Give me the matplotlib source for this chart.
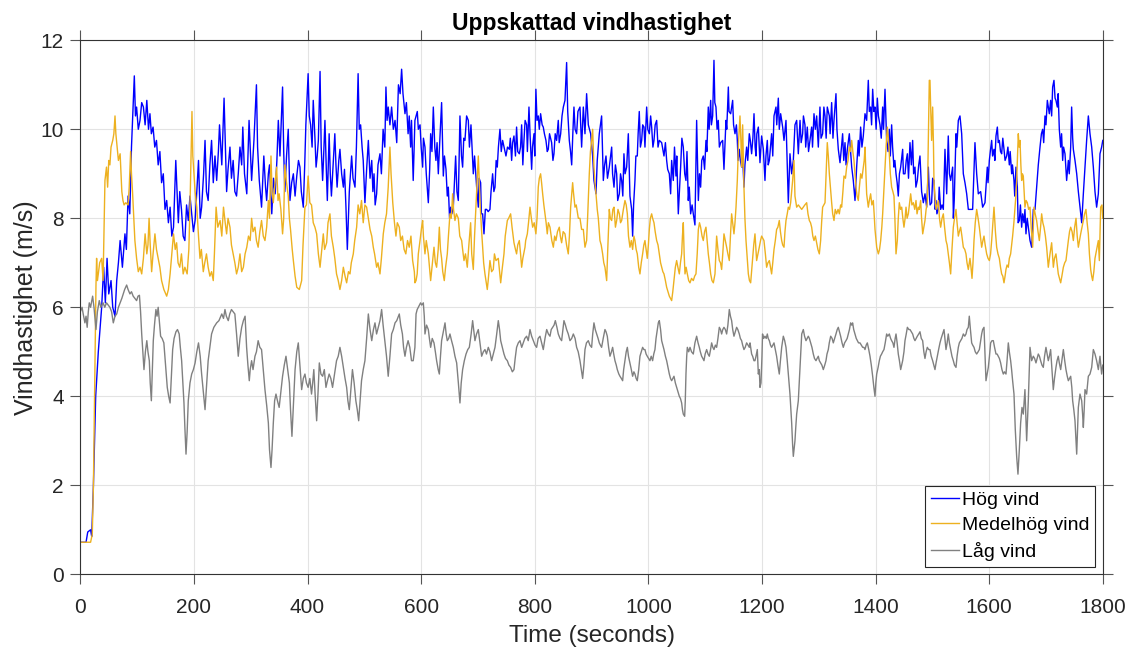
import numpy as np
import matplotlib
matplotlib.use('Agg')
import matplotlib.pyplot as plt

# Estimated wind speed (m/s) vs time (s) for three wind conditions
hog_vind = [
    (0, 0.72), (10, 0.72), (13, 0.95), (18, 1.0), (20, 0.85), (23, 2.0), (27, 4.0), (31.6, 5.0), (37.5, 6.0),
    (41, 6.9), (44, 6.1), (47, 7.1), (50, 6.3), (54, 6.6), (57, 6.0), (61, 5.8), (64, 6.6), (67, 7.0), (70, 7.5),
    (74, 6.9), (78.5, 7.65), (81, 7.3), (84, 8.5), (87, 8.1), (90, 9.6), (95, 11.2), (97, 10.3), (99, 10.5),
    (102, 10.0), (105, 10.2), (108, 10.6), (111, 10.5), (114, 10.1), (117, 10.65), (120, 10.0), (122.5, 10.35),
    (125, 9.9), (128, 10.05), (131, 9.6), (134, 9.75), (137, 9.2), (140, 9.5), (143, 8.8), (146, 9.0), (149, 8.2),
    (152, 8.4), (155, 7.9), (158, 8.25), (161, 7.6), (164, 7.8), (168, 9.3), (172.5, 7.9), (175, 8.6), (178, 8.2),
    (181, 7.6), (184, 7.5), (187, 8.3), (190, 7.95), (193, 8.5), (196, 8.1), (199, 7.7), (202, 7.95), (205, 8.6),
    (208, 9.3), (211, 8.0), (213.5, 8.25), (217, 9.0), (219.5, 9.75), (222, 8.6), (225, 8.4), (228, 9.2),
    (231, 9.75), (234, 8.8), (237, 9.4), (240, 8.85), (243, 9.5), (245, 10.1), (249, 9.2), (253, 10.7),
    (257.5, 8.6), (260, 9.1), (263.4, 9.6), (266, 8.9), (269, 9.3), (272, 8.6), (275, 8.5), (278, 9.0), (281, 9.6),
    (284, 9.2), (286, 10.05), (289, 9.0), (293, 8.55), (297, 10.2), (301.5, 8.85), (305.6, 9.75), (310, 11.0),
    (312, 9.6), (315, 8.85), (319, 8.25), (323, 9.4), (326, 8.7), (328, 8.4), (331, 9.0), (333, 9.2), (337, 8.1),
    (340, 8.9), (343, 8.55), (346, 9.3), (348.5, 10.2), (351.4, 9.4), (356, 10.95), (358, 9.5), (360, 8.6),
    (363, 9.4), (366, 10.0), (369, 8.4), (372, 8.8), (375, 9.0), (378, 8.5), (381, 8.95), (384, 9.3),
    (386.6, 9.15), (389, 8.6), (392.5, 8.25), (395, 9.2), (397, 10.1), (401, 11.25), (403, 10.3), (405.4, 10.1),
    (408, 9.6), (410, 10.65), (413, 9.8), (415, 9.15), (417, 9.4), (419, 9.75), (422, 11.3), (424, 9.6),
    (426.5, 8.85), (428, 9.3), (430.6, 10.2), (433, 9.1), (434.8, 8.4), (438, 9.9), (440, 9.0), (442, 8.5),
    (445, 9.2), (448, 9.9), (450, 9.2), (452, 8.7), (455, 9.3), (457, 9.55), (460, 9.0), (463, 8.7), (465, 9.1),
    (467.6, 8.25), (470, 7.3), (473.5, 8.6), (477.6, 9.4), (480, 8.9), (483.5, 8.7), (486, 9.6), (489, 11.25),
    (491, 10.0), (493.4, 10.1), (496, 9.6), (498, 9.3), (501, 8.35), (504, 9.1), (507, 9.75), (510, 8.9),
    (513, 9.3), (515, 8.6), (517, 9.0), (519, 8.3), (521.6, 8.55), (524, 9.2), (527.5, 9.45), (530, 9.0),
    (533, 10.0), (536, 9.6), (538, 10.95), (540, 10.2), (542, 10.5), (545, 10.1), (548, 10.5), (551, 10.0),
    (554, 10.2), (557, 9.7), (560, 11.0), (563, 10.8), (565.6, 11.35), (568, 10.8), (571.5, 10.35), (574, 10.6),
    (577, 9.9), (579, 10.3), (581.5, 9.6), (583, 10.2), (586, 8.85), (589, 10.2), (591, 10.3), (593.2, 10.4),
    (595, 10.0), (598, 10.1), (600, 9.6), (602.6, 9.15), (604, 9.8), (606.7, 9.6), (609, 9.0), (612.6, 8.35),
    (615, 9.1), (616.7, 9.9), (619, 9.5), (621.4, 10.5), (624, 9.6), (626, 9.3), (628, 9.7), (630.2, 9.0),
    (633, 9.8), (636, 10.6), (639, 8.95), (641, 9.4), (643.7, 9.1), (646, 8.5), (647.8, 8.7), (650, 8.0),
    (652, 8.25), (654, 8.1), (656.6, 8.25), (660.7, 9.4), (663, 8.6), (665.4, 8.4), (668.3, 10.3), (671, 9.4),
    (673, 9.15), (675, 9.8), (677.1, 9.75), (680, 10.3), (683, 10.2), (685, 9.6), (687.7, 10.1), (690, 9.5),
    (691.8, 9.0), (694, 9.4), (697.7, 8.7), (700.6, 8.25), (702, 8.9), (704.7, 8.8), (706, 8.1), (708.2, 8.1),
    (710.6, 7.65), (713, 8.2), (715.3, 8.2), (718, 8.15), (721.1, 8.2), (723, 8.6), (725.8, 9.0), (728, 8.6),
    (730, 8.7), (732, 9.3), (734, 9.15), (736, 9.6), (738.7, 10.0), (741, 9.5), (743.4, 9.75), (746, 9.6),
    (749.3, 9.4), (752, 9.6), (755.2, 9.55), (757, 9.8), (759.3, 9.3), (761, 9.7), (763.4, 9.85), (766, 9.4),
    (768, 10.05), (770, 9.5), (772.8, 9.45), (775, 9.6), (776.9, 10.1), (779, 9.2), (781, 9.75), (783, 10.2),
    (785.7, 10.1), (787, 9.5), (789.8, 10.5), (792, 9.8), (794.5, 9.1), (796, 9.6), (798.6, 9.9), (800, 9.4),
    (802, 10.9), (804, 10.2), (806.2, 10.3), (808, 10.0), (810.3, 10.35), (813, 10.1), (815, 10.05), (817, 9.9),
    (819.7, 9.75), (822, 9.5), (823.8, 9.55), (826, 9.9), (829.7, 9.7), (832, 9.3), (833.8, 9.45), (836, 9.9),
    (838.5, 9.75), (841.4, 10.2), (843, 9.7), (845.6, 9.9), (848, 10.3), (850.3, 10.5), (853.2, 10.65),
    (856.1, 11.5), (858, 10.4), (860.8, 9.75), (863, 9.5), (865, 9.2), (867, 9.9), (869, 10.5), (871, 10.0),
    (873.7, 9.9), (876, 10.4), (879.6, 10.5), (882.5, 9.6), (885.5, 10.5), (888.4, 9.9), (891.3, 10.8),
    (894.3, 10.1), (898.4, 9.9), (901.9, 9.4), (904.2, 8.85), (907.8, 8.55), (910, 9.3), (913.6, 9.9),
    (917.7, 10.3), (920.7, 8.85), (923, 9.2), (925.4, 9.4), (928, 8.9), (931.2, 9.15), (935.4, 9.6), (937, 9.0),
    (939.5, 8.7), (942, 9.2), (944.2, 9.0), (946, 8.4), (948.9, 8.55), (951, 9.0), (953, 8.85), (955, 8.5),
    (957, 9.45), (959, 9.0), (961.8, 9.15), (964.7, 9.9), (967.6, 8.5), (970.6, 8.2), (972.3, 7.6), (974, 8.3),
    (976.4, 8.85), (978, 9.4), (980.5, 9.4), (982, 9.9), (984, 10.4), (986, 9.6), (988.2, 9.75), (990, 10.1),
    (992.3, 10.05), (994, 9.6), (997, 10.5), (999, 10.0), (1001.7, 9.9), (1004, 10.3), (1005.8, 10.05),
    (1008, 9.6), (1009.9, 9.75), (1012, 10.1), (1014.6, 10.2), (1017, 9.6), (1019.3, 9.75), (1023.4, 9.7),
    (1027.5, 9.4), (1030, 9.7), (1032.2, 9.3), (1034, 9.1), (1036.9, 9.0), (1039.2, 8.55), (1041, 9.3),
    (1043.9, 8.85), (1046, 9.6), (1048.6, 8.95), (1050, 9.4), (1052.7, 8.1), (1055, 8.7), (1056.8, 9.15),
    (1059, 9.8), (1061.5, 9.6), (1064, 9.0), (1066.2, 8.85), (1068, 9.5), (1070.3, 8.4), (1072, 8.7),
    (1074.4, 8.1), (1077, 8.3), (1079.1, 8.1), (1082, 7.85), (1085, 10.2), (1088, 8.4), (1090, 9.0), (1092, 8.7),
    (1094, 9.3), (1096.7, 9.4), (1099, 9.1), (1101.4, 9.75), (1103, 9.5), (1105.5, 10.5), (1107, 10.0),
    (1109.7, 10.65), (1111, 10.1), (1113.2, 10.3), (1115.5, 11.55), (1117, 10.6), (1119, 10.5), (1121, 10.0),
    (1123.1, 10.2), (1125, 9.6), (1127.3, 9.7), (1130.8, 9.75), (1133.1, 9.1), (1136.6, 10.2), (1138, 10.0),
    (1140.8, 10.95), (1142, 10.4), (1144.9, 10.35), (1148.4, 10.65), (1150, 10.1), (1152.5, 9.9), (1155, 10.1),
    (1156.6, 9.75), (1158, 9.3), (1160.1, 9.55), (1162, 9.3), (1164.2, 9.15), (1166, 9.4), (1168.3, 8.7),
    (1170, 9.2), (1173, 9.6), (1175, 9.3), (1177.7, 9.9), (1179.5, 9.75), (1181.8, 9.45), (1184, 9.8),
    (1186, 10.35), (1188, 9.6), (1189.5, 9.4), (1191, 9.9), (1193.6, 10.05), (1196.5, 9.25), (1199.4, 9.85),
    (1202.4, 9.55), (1205.3, 8.85), (1207, 9.4), (1209.4, 9.75), (1211, 9.2), (1213, 9.3), (1215, 9.6),
    (1217, 9.9), (1219, 9.4), (1221.2, 10.3), (1224.7, 10.5), (1226, 10.1), (1228.8, 10.7), (1230.5, 10.0),
    (1232.9, 10.35), (1236.4, 10.05), (1238.8, 9.75), (1242.3, 10.2), (1244.6, 9.15), (1246.4, 8.35),
    (1249.3, 9.45), (1252.3, 9.0), (1255.2, 9.3), (1258.1, 10.1), (1261.1, 10.2), (1264, 9.45), (1267, 10.2),
    (1269, 9.7), (1271.6, 9.9), (1273, 10.3), (1275.7, 10.1), (1277, 9.6), (1279.8, 10.05), (1282, 9.5),
    (1284.5, 9.75), (1287.5, 10.05), (1289, 9.6), (1291.6, 10.35), (1294, 10.0), (1296.3, 10.3), (1299.2, 9.6),
    (1302.1, 10.5), (1304, 9.8), (1306.8, 9.9), (1309, 10.5), (1311, 10.3), (1313, 9.8), (1315, 10.5),
    (1318.6, 10.3), (1320, 9.9), (1322.7, 10.6), (1325, 9.8), (1326.8, 10.2), (1330.3, 10.8), (1332, 10.0),
    (1334.4, 9.55), (1337.4, 9.25), (1340, 9.6), (1342, 9.9), (1344, 9.3), (1346.2, 9.7), (1348, 9.2),
    (1350.3, 9.55), (1353.8, 9.9), (1356, 9.5), (1358, 9.15), (1360.8, 8.85), (1363.8, 8.4), (1366.7, 9.15),
    (1369.6, 9.75), (1371, 9.4), (1373.7, 10.05), (1376, 9.6), (1378.4, 9.85), (1381.4, 10.35), (1384.3, 10.2),
    (1387.2, 11.1), (1389, 10.4), (1391.3, 10.5), (1393, 10.1), (1394.9, 10.9), (1397, 10.4), (1399, 10.5),
    (1401, 10.0), (1403.1, 10.7), (1405, 10.3), (1407.8, 10.1), (1410, 9.8), (1412.5, 10.5), (1414, 10.0),
    (1416.6, 10.9), (1419.5, 9.75), (1422, 9.5), (1424.2, 10.0), (1426, 9.4), (1428.3, 10.1), (1430, 9.6),
    (1432.4, 9.15), (1434, 9.3), (1436, 9.0), (1438, 8.8), (1440, 8.5), (1442, 9.0), (1444.2, 9.15),
    (1447.7, 9.55), (1449, 9.0), (1451.8, 9.0), (1454, 9.3), (1456, 9.45), (1458, 8.9), (1460.6, 9.7),
    (1463, 9.2), (1465.3, 9.75), (1467, 9.0), (1469.4, 9.15), (1471, 8.7), (1473.5, 8.85), (1476, 9.2),
    (1478.2, 9.4), (1481.1, 8.6), (1484.1, 8.35), (1487, 8.55), (1490, 8.25), (1492.9, 9.15), (1494.6, 8.55),
    (1496, 8.3), (1498.7, 8.35), (1500.5, 8.9), (1502.8, 8.85), (1505, 8.2), (1506.4, 8.4), (1508, 8.1),
    (1510.5, 8.2), (1512, 8.7), (1514.6, 8.2), (1517, 8.3), (1519.3, 8.2), (1522.2, 9.55), (1525.2, 8.55),
    (1528, 9.85), (1530, 9.0), (1532.2, 8.85), (1535.7, 9.15), (1537, 8.0), (1538.5, 8.4), (1541.6, 9.9),
    (1543, 9.6), (1545.7, 10.2), (1548.6, 10.3), (1551.6, 9.9), (1554.5, 9.0), (1557.4, 8.8), (1560.4, 8.55),
    (1563.3, 8.2), (1566.2, 8.2), (1570.9, 8.2), (1575, 9.7), (1578, 9.0), (1580.9, 8.55), (1585, 8.6),
    (1588.5, 8.25), (1592.6, 8.35), (1596.7, 9.15), (1598, 8.8), (1600.3, 9.3), (1602, 9.5), (1604.4, 9.75),
    (1606, 9.4), (1608.5, 9.55), (1610, 9.3), (1612, 9.85), (1614.4, 10.05), (1616, 9.7), (1617.9, 9.75),
    (1620, 9.5), (1622, 9.45), (1624, 9.8), (1626.1, 9.55), (1628, 9.3), (1630.8, 9.4), (1633, 9.6),
    (1635.5, 9.2), (1637, 9.5), (1639.6, 9.0), (1641, 9.2), (1643.7, 8.85), (1645, 8.5), (1647.2, 9.15),
    (1649.6, 8.7), (1651, 7.9), (1653.1, 7.95), (1655, 8.3), (1657.2, 7.8), (1659, 8.1), (1661.3, 7.9),
    (1663, 8.2), (1664.8, 7.65), (1667, 8.0), (1669, 7.8), (1671.9, 7.5), (1674.8, 7.35), (1677.7, 8.2),
    (1680.7, 8.2), (1683.6, 8.7), (1686.5, 9.2), (1689.5, 9.6), (1692, 9.9), (1694.2, 10.0), (1696, 9.7),
    (1698.3, 10.3), (1700, 10.1), (1702.4, 10.65), (1705.9, 10.35), (1708.2, 10.65), (1710, 10.3),
    (1711.8, 10.95), (1714.1, 11.1), (1716, 10.7), (1717.6, 10.65), (1720, 10.5), (1721.5, 10.8), (1723.5, 10.0),
    (1725.9, 9.6), (1727.5, 9.9), (1729.4, 9.3), (1731, 9.6), (1733.5, 9.45), (1736.4, 8.85), (1739.4, 9.3),
    (1741, 9.0), (1743.5, 9.6), (1745.2, 10.5), (1747, 9.8), (1748.2, 9.55), (1751.1, 9.3), (1754.1, 9.0),
    (1757, 8.6), (1759.9, 8.25), (1762.9, 7.9), (1765.8, 8.55), (1768.7, 9.15), (1771.6, 9.75), (1774.6, 10.3),
    (1777.5, 9.9), (1780.5, 9.6), (1783.4, 9.15), (1786.3, 8.6), (1789.2, 8.25), (1792.2, 8.55), (1795.1, 9.45),
    (1798, 9.6), (1800, 9.75),
]

medelhog_vind = [
    (0, 0.72), (18, 0.72), (21, 0.9), (23, 2.0), (25.5, 4.5), (27.5, 6.5), (28.6, 7.1), (30, 6.6), (31.6, 6.75),
    (34, 7.0), (37.5, 7.1), (40, 6.6), (43.3, 8.85), (46, 9.15), (48, 8.7), (50, 9.3), (52, 9.2), (54, 9.6),
    (57, 9.75), (59, 9.9), (61, 10.3), (62.5, 9.9), (64, 9.7), (67, 9.3), (70, 9.45), (73, 8.6), (75, 8.4),
    (77, 8.3), (80, 8.35), (84, 8.3), (86, 8.7), (88.5, 9.5), (90, 9.0), (92, 8.55), (94, 8.0), (96, 7.5),
    (99, 7.1), (102, 6.8), (105, 6.9), (108, 6.75), (111, 7.1), (114, 7.65), (117, 7.2), (119, 7.4), (121, 8.0),
    (123, 7.4), (125.5, 6.8), (128, 7.2), (131.3, 7.65), (134, 7.3), (137, 7.1), (140, 6.9), (143, 6.6),
    (147, 6.4), (152, 6.25), (155, 6.4), (158, 6.75), (161, 7.2), (164, 7.65), (167, 7.3), (169.5, 7.45),
    (172, 7.0), (175, 6.9), (178, 7.2), (181, 6.75), (184, 6.9), (188, 6.75), (191, 7.3), (193, 8.25),
    (196.5, 10.4), (198, 9.4), (200, 9.0), (202, 8.6), (205, 8.25), (208, 7.6), (210.6, 7.1), (213, 7.3),
    (216.4, 6.8), (219, 7.0), (222, 7.2), (225, 6.9), (228, 6.7), (231, 6.8), (234, 6.6), (236, 7.2),
    (239, 8.25), (242, 7.8), (246, 7.95), (249, 7.6), (252, 8.25), (255, 7.9), (257.5, 7.65), (260, 8.0),
    (263.4, 7.8), (266, 7.4), (269, 7.2), (272, 7.0), (275, 6.75), (278, 6.9), (281, 7.2), (284, 6.8),
    (287, 6.9), (290, 7.2), (293, 7.35), (296, 7.6), (299, 7.5), (301.5, 8.0), (304, 7.7), (307.4, 7.8),
    (310, 7.5), (313, 7.35), (316, 7.7), (319, 7.95), (322, 7.6), (325, 7.5), (328, 7.8), (331, 8.4), (333, 8.0),
    (335.6, 9.4), (337.5, 8.6), (339.7, 8.35), (342, 8.7), (345.5, 9.15), (348, 8.4), (350, 8.55), (353, 8.2),
    (356, 7.65), (358, 8.0), (360, 9.2), (363, 8.8), (366, 8.5), (368, 8.0), (370, 7.75), (373, 7.3),
    (375, 7.05), (378, 6.7), (381, 6.45), (385.5, 6.4), (389.6, 6.6), (392, 7.4), (395.4, 8.25), (398, 8.3),
    (401, 8.95), (404, 8.35), (407, 8.3), (410, 7.9), (413, 7.8), (416, 7.65), (419, 7.2), (422, 6.9),
    (425, 7.3), (427.7, 7.65), (430, 7.3), (433.6, 7.45), (436, 7.9), (439.4, 8.1), (442, 7.6), (445.3, 7.35),
    (448, 7.1), (451, 6.75), (454, 6.6), (457, 6.4), (460, 6.6), (463, 6.9), (466, 6.7), (468.8, 6.55),
    (472, 6.8), (474.7, 6.75), (477, 7.0), (480.5, 7.2), (483, 7.5), (486.4, 7.8), (489, 8.3), (492, 8.1),
    (495, 8.4), (498, 7.9), (501, 8.3), (504, 8.25), (507, 8.0), (510, 7.75), (513, 7.6), (515.7, 7.35),
    (518, 7.2), (521.6, 6.9), (524, 7.0), (527.5, 6.75), (530, 7.1), (533.3, 7.65), (536, 7.9), (539, 8.1),
    (542, 8.7), (545, 9.6), (547, 9.0), (550, 8.35), (553, 7.9), (555.6, 7.6), (558, 7.9), (561.5, 7.8),
    (564, 7.5), (567, 7.6), (570, 7.3), (573, 7.2), (576, 7.5), (579, 7.35), (582, 7.6), (585, 7.05),
    (588, 6.8), (589, 6.55), (591, 6.6), (593, 6.75), (595, 7.2), (598, 7.5), (600.8, 7.8), (602.6, 7.95),
    (604, 7.6), (606.7, 7.2), (609, 7.5), (612.6, 7.2), (614, 7.0), (616.7, 6.6), (619, 6.9), (622.6, 7.35),
    (625, 7.0), (627.2, 6.9), (630, 7.3), (632, 7.8), (634, 7.3), (636, 7.1), (638, 6.8), (640.7, 6.6),
    (643, 6.9), (646, 7.2), (648, 7.6), (650.7, 8.1), (653, 8.0), (655.4, 8.55), (657, 8.2), (659.5, 7.95),
    (662, 8.1), (665.4, 8.0), (668, 7.6), (671.3, 7.5), (673, 7.3), (675.4, 7.05), (678, 7.2), (681.2, 6.9),
    (684, 7.4), (687.1, 7.9), (689, 7.2), (691.8, 6.85), (694, 7.6), (697.7, 8.6), (700.6, 9.4), (703.5, 8.4),
    (706, 7.8), (708.2, 7.35), (710, 7.0), (712.3, 6.75), (716.4, 6.4), (718, 6.6), (721.1, 7.05), (724, 6.8),
    (727, 6.85), (729, 7.2), (731.7, 7.05), (735.8, 7.1), (738, 6.8), (740, 6.55), (743, 6.9), (745.8, 7.2),
    (748, 7.6), (751.7, 7.95), (754, 8.0), (757.5, 8.1), (760, 7.8), (763.4, 7.45), (766, 7.3), (768, 7.2),
    (770, 7.4), (772.8, 7.5), (775, 7.2), (776.9, 6.9), (779, 7.1), (782.8, 7.35), (784, 7.5), (786.9, 7.65),
    (789, 7.9), (791.6, 8.25), (794, 8.0), (796.3, 7.8), (799, 7.9), (802, 7.65), (804, 8.0), (806.2, 8.7),
    (808, 8.9), (810.3, 9.0), (812, 8.8), (813.9, 8.55), (816, 8.3), (818, 8.1), (820, 7.9), (822, 7.65),
    (824, 7.9), (826.8, 7.8), (830, 7.5), (832.7, 7.35), (835, 7.6), (837.3, 7.5), (840, 7.7), (843.2, 7.8),
    (845, 7.6), (847.3, 7.45), (850, 7.7), (853.2, 7.65), (856, 7.4), (859, 7.2), (861, 7.6), (863.2, 8.25),
    (866.7, 8.8), (868, 8.6), (870.8, 8.25), (873, 8.3), (876.7, 8.0), (879.6, 8.0), (882.5, 7.75),
    (885.5, 7.75), (888.4, 7.35), (891.3, 7.5), (893, 8.0), (896, 9.0), (898, 9.5), (900.1, 9.75),
    (901.9, 10.0), (904.2, 9.15), (906, 8.8), (907.8, 8.55), (910, 8.2), (911.9, 8.0), (914.8, 7.5), (917, 7.4),
    (919.5, 7.2), (921.5, 7.0), (923.6, 6.9), (926.6, 6.6), (928.5, 7.3), (931.2, 8.2), (933, 8.0),
    (935.4, 7.95), (937.5, 8.2), (939.5, 8.25), (942, 7.8), (944.2, 7.95), (946.5, 8.2), (948.9, 8.1),
    (951, 7.9), (953, 7.95), (956, 8.2), (958.8, 8.4), (961, 8.3), (963, 8.1), (965, 7.6), (967.6, 7.35),
    (970, 7.5), (972.3, 7.3), (974.5, 7.6), (976.4, 7.5), (978.5, 7.3), (980.5, 7.2), (983, 6.9), (985.2, 6.75),
    (987.5, 7.0), (989.9, 7.2), (992, 7.4), (994, 7.5), (996, 7.3), (998.1, 7.1), (1000, 7.4), (1001.7, 7.75),
    (1003.5, 8.0), (1005.8, 8.1), (1007.5, 8.0), (1009.9, 7.9), (1012, 7.7), (1014.6, 7.5), (1017, 7.4),
    (1019.3, 7.2), (1021.5, 7.0), (1023.4, 6.9), (1025.5, 6.8), (1027.5, 6.75), (1030, 6.6), (1032.2, 6.45),
    (1034.5, 6.35), (1036.9, 6.25), (1039, 6.2), (1041, 6.15), (1043, 6.35), (1045.1, 6.6), (1047.5, 6.9),
    (1049.8, 7.05), (1052, 6.9), (1054.5, 6.75), (1056.5, 7.0), (1058.6, 7.2), (1060, 7.6), (1061.5, 7.9),
    (1063, 7.2), (1064.5, 6.75), (1066.5, 6.9), (1068.6, 6.75), (1071, 6.6), (1073.3, 6.55), (1076, 6.65),
    (1079.1, 6.6), (1081.5, 6.7), (1083.8, 6.75), (1086, 7.2), (1088, 7.75), (1090, 7.9), (1092, 7.8),
    (1094.5, 7.6), (1096.7, 7.5), (1099, 7.7), (1101.4, 7.8), (1103.5, 7.5), (1105.5, 7.2), (1107.5, 7.0),
    (1109.7, 6.75), (1112, 6.6), (1114.4, 6.55), (1117.3, 6.75), (1120.2, 7.6), (1122.5, 7.3), (1124.9, 7.05),
    (1127, 7.0), (1129, 6.85), (1131, 7.2), (1133.1, 7.65), (1135.5, 7.5), (1137.8, 7.35), (1140, 7.2),
    (1142.5, 7.05), (1144.5, 7.6), (1146.6, 8.1), (1148.5, 7.9), (1150.7, 7.65), (1152.5, 7.9), (1154.3, 8.25),
    (1156.6, 8.85), (1158.9, 9.75), (1161.3, 10.3), (1163, 9.7), (1164.2, 9.15), (1166, 10.1), (1168.3, 8.7),
    (1170, 8.0), (1171.9, 7.5), (1174, 7.1), (1176, 6.75), (1178, 6.6), (1180.1, 6.55), (1183.6, 7.1),
    (1185.5, 7.4), (1187.7, 7.65), (1190.6, 7.05), (1193, 7.2), (1195.3, 7.35), (1197.5, 7.5), (1199.4, 7.6),
    (1201.5, 7.55), (1203.5, 7.5), (1206, 7.2), (1208.2, 6.9), (1210.5, 7.0), (1213, 7.05), (1215, 6.9),
    (1217, 6.75), (1219, 7.0), (1221.2, 7.3), (1223.5, 7.5), (1225.8, 7.75), (1228, 7.8), (1230.5, 7.95),
    (1232.5, 7.7), (1234.7, 7.5), (1236.5, 7.4), (1238.8, 7.35), (1240.5, 7.7), (1242.3, 7.95), (1244.5, 8.1),
    (1246.4, 8.25), (1248.5, 8.2), (1250.5, 8.35), (1252.3, 8.6), (1254, 8.85), (1256.4, 9.3), (1258.1, 8.5),
    (1261.1, 8.25), (1264, 8.3), (1267, 8.25), (1270, 8.2), (1272.8, 8.25), (1275.5, 8.3), (1278.7, 8.35),
    (1281, 8.1), (1283.4, 7.95), (1285.5, 7.9), (1287.5, 7.8), (1289.5, 7.6), (1291.6, 7.5), (1294, 7.6),
    (1296.3, 7.45), (1298.5, 7.3), (1301, 7.2), (1303.3, 7.5), (1305, 7.9), (1306.8, 8.25), (1309, 8.3),
    (1311, 8.35), (1313, 9.0), (1315, 9.7), (1316.8, 9.4), (1318.6, 9.0), (1320.5, 8.7), (1322.7, 8.35),
    (1324.5, 8.1), (1326.8, 7.95), (1329, 8.2), (1331.5, 8.1), (1334, 8.2), (1336.2, 8.1), (1338.5, 8.3),
    (1340.3, 8.25), (1342.5, 8.6), (1344.4, 8.95), (1347, 8.9), (1349.1, 9.15), (1351.5, 9.3), (1353.8, 9.6),
    (1356, 9.5), (1358, 9.75), (1360, 9.5), (1362, 9.3), (1363.8, 9.0), (1365.5, 8.7), (1367.5, 8.5),
    (1369.6, 8.4), (1371.5, 8.7), (1373.7, 9.0), (1376, 8.9), (1378.4, 9.15), (1380, 9.3), (1381.4, 9.6),
    (1383, 9.0), (1384.3, 8.55), (1387.2, 8.25), (1389, 8.4), (1391.3, 8.55), (1393.5, 8.3), (1396, 8.4),
    (1397.5, 8.1), (1399, 7.75), (1402, 7.35), (1404.9, 7.2), (1407, 7.3), (1409, 7.5), (1411, 7.8),
    (1412.5, 8.1), (1414.5, 8.6), (1416.6, 9.15), (1418.5, 9.6), (1420.7, 10.05), (1422.5, 9.8), (1424.2, 9.45),
    (1426, 9.0), (1428.3, 8.7), (1430.5, 8.6), (1432.4, 8.5), (1434, 8.0), (1436, 7.2), (1438.3, 7.5),
    (1440, 8.0), (1441.8, 8.35), (1444, 8.2), (1446, 8.25), (1448, 8.0), (1450, 7.8), (1452, 8.0),
    (1453.6, 8.25), (1455.5, 8.0), (1457.7, 8.1), (1459.5, 8.3), (1461.8, 8.55), (1464, 8.3), (1466.5, 8.35),
    (1469, 8.2), (1471.2, 8.4), (1473, 8.1), (1475.3, 8.25), (1477, 8.2), (1479.4, 8.4), (1481, 8.0),
    (1483, 7.65), (1485, 7.8), (1487, 7.95), (1489, 8.2), (1491.1, 8.35), (1492.9, 9.75), (1494.6, 11.1),
    (1495.8, 11.1), (1497.2, 10.4), (1498.7, 9.75), (1500.5, 10.5), (1502, 9.6), (1502.8, 8.85), (1504.5, 8.5),
    (1506.4, 8.2), (1508.5, 8.3), (1510.5, 8.4), (1512.5, 8.0), (1514.6, 7.8), (1517, 8.0), (1519.3, 8.1),
    (1521.5, 7.8), (1524, 7.5), (1526, 7.4), (1528, 7.2), (1530, 7.0), (1532.2, 6.75), (1534.5, 7.3),
    (1536.9, 7.8), (1539, 8.0), (1541.6, 8.2), (1543.5, 7.9), (1545.7, 7.6), (1547.5, 7.7), (1549.8, 7.8),
    (1552, 7.6), (1554.5, 7.35), (1557, 7.3), (1559.2, 7.2), (1561, 7.0), (1563.3, 6.85), (1566.2, 7.1),
    (1568, 6.9), (1569.8, 6.65), (1571.5, 7.0), (1573.3, 7.5), (1575.5, 7.9), (1578, 8.2), (1580.5, 8.0),
    (1582.7, 7.8), (1584.5, 7.6), (1586.8, 7.35), (1589, 7.5), (1590.9, 7.6), (1593, 7.4), (1595.6, 7.2),
    (1598, 7.1), (1600.3, 7.05), (1602.5, 7.2), (1604.4, 7.5), (1606.5, 7.9), (1608.5, 8.25), (1611, 7.7),
    (1613.2, 7.35), (1615.5, 7.2), (1617.9, 7.1), (1620, 6.9), (1622, 6.75), (1624, 6.7), (1626.1, 6.55),
    (1628, 6.7), (1629.6, 6.85), (1631.5, 6.95), (1633.7, 6.9), (1635.5, 7.1), (1637.8, 7.2), (1639.5, 7.4),
    (1641.3, 7.6), (1643.5, 7.9), (1645.5, 8.25), (1647, 8.5), (1648.4, 8.85), (1650, 9.4), (1651.3, 9.9),
    (1652.8, 9.6), (1654.3, 9.75), (1655.8, 9.2), (1657.2, 8.85), (1658.5, 9.0), (1660.1, 8.95), (1661.5, 8.6),
    (1663, 8.25), (1665, 8.4), (1667.2, 8.35), (1669.5, 8.2), (1671.9, 8.25), (1674, 7.8), (1676.6, 7.35),
    (1678.9, 8.25), (1681, 8.1), (1683.6, 7.95), (1686, 7.7), (1688.3, 7.5), (1690.5, 7.8), (1692.4, 8.1),
    (1694.5, 7.9), (1696.5, 7.8), (1699, 7.6), (1701.2, 7.35), (1704.1, 6.9), (1707.1, 7.2), (1710, 7.45),
    (1713, 6.9), (1715, 7.1), (1717.6, 7.2), (1719.5, 7.0), (1721.7, 6.75), (1725.9, 6.55), (1728, 6.7),
    (1730.6, 6.9), (1733, 7.0), (1735.2, 7.05), (1737.5, 7.3), (1739.4, 7.5), (1741.5, 7.7), (1743.5, 7.8),
    (1746, 7.7), (1748.2, 7.5), (1750.5, 7.8), (1752.9, 8.0), (1755, 7.6), (1757, 7.35), (1759, 7.5),
    (1761.1, 7.65), (1763.5, 7.8), (1765.8, 7.95), (1768, 8.1), (1770.4, 8.2), (1772.5, 7.9), (1774.6, 7.65),
    (1776.5, 7.2), (1778.7, 6.85), (1780.5, 6.7), (1782.2, 6.6), (1784.3, 6.8), (1786.3, 7.1), (1789.2, 7.3),
    (1792.2, 7.5), (1794, 7.05), (1796.3, 8.25), (1798.6, 8.3), (1800, 8.0),
]

lag_vind = [
    (0, 5.9), (3, 6.0), (5, 5.85), (8, 5.65), (10, 5.8), (12, 5.55), (14, 5.9), (15.7, 6.1), (18, 6.0),
    (21.6, 6.25), (24, 6.0), (27.5, 5.5), (30, 5.9), (33.3, 6.15), (36, 6.0), (40, 6.1), (43, 6.0), (46, 6.1),
    (49, 6.05), (52, 6.0), (55, 5.9), (58, 5.65), (61, 5.8), (64, 5.85), (67, 6.0), (70, 6.1), (73, 6.2),
    (75.6, 6.3), (78, 6.4), (81.5, 6.5), (84, 6.4), (87.3, 6.3), (90, 6.35), (93, 6.25), (96, 6.2), (99, 6.15),
    (101.5, 6.25), (104, 6.27), (106, 5.9), (108, 5.4), (110, 5.0), (112, 4.6), (114.5, 5.0), (117, 5.25),
    (119, 5.0), (121.4, 4.8), (123, 4.3), (125, 3.9), (126.5, 4.5), (128.4, 5.25), (130.5, 5.6), (133, 5.95),
    (135, 5.8), (137, 6.0), (139, 5.7), (141.3, 5.35), (144, 5.3), (147, 5.2), (150, 4.7), (153, 4.2),
    (155.5, 4.0), (158, 3.85), (160, 4.4), (162.5, 5.05), (165, 5.3), (168.3, 5.45), (171, 5.5), (174, 5.4),
    (176, 5.1), (178.3, 4.8), (180.5, 4.3), (182.4, 3.85), (184, 3.3), (186, 2.7), (188, 3.2), (190, 3.9),
    (193, 4.3), (196, 4.5), (199, 4.6), (202, 4.75), (205, 5.0), (208, 5.2), (211, 4.9), (213.5, 4.5),
    (216.5, 4.1), (219.5, 3.7), (222, 4.2), (225, 4.8), (228, 5.1), (231, 5.4), (235, 5.55), (240, 5.65),
    (244, 5.7), (249, 5.85), (252, 5.75), (254.6, 5.95), (257, 5.8), (260.4, 5.7), (263, 5.85), (266, 5.95),
    (269, 5.9), (272, 5.85), (275, 5.4), (278, 4.9), (281, 5.3), (284, 5.55), (287, 5.7), (290, 5.8),
    (292.7, 5.1), (295, 4.7), (297.4, 4.35), (299, 4.6), (301.5, 4.8), (304, 4.6), (307.4, 4.9), (310, 5.0),
    (313, 5.25), (316, 5.1), (319, 5.05), (322, 4.6), (325, 4.15), (328, 3.8), (331, 3.4), (333, 2.8),
    (335.6, 2.4), (337.5, 2.8), (339.7, 3.4), (342, 3.9), (344.4, 4.05), (347, 3.9), (350, 3.75), (353, 4.1),
    (356, 4.45), (359, 4.7), (362, 4.9), (365, 4.6), (368, 4.3), (370, 3.7), (372.5, 3.1), (375, 3.8),
    (378, 4.6), (381, 5.0), (383.7, 5.2), (386.5, 4.7), (389.6, 4.15), (392.5, 4.4), (395.4, 4.5), (398, 4.3),
    (401, 4.2), (404, 4.4), (407, 4.05), (409, 4.3), (411, 4.6), (413.5, 4.0), (416, 3.45), (418.5, 4.1),
    (420.7, 4.75), (423.5, 4.5), (426.5, 4.45), (429.5, 4.6), (432.4, 4.2), (435, 4.35), (438, 4.5), (441, 4.4),
    (444, 4.2), (447.5, 4.5), (451, 4.8), (454, 4.9), (457, 5.1), (460, 4.9), (463, 4.65), (466, 4.4),
    (468.8, 4.2), (471, 3.9), (473.5, 3.7), (476, 4.1), (479, 4.6), (482, 4.3), (485, 3.9), (487.5, 3.7),
    (490, 3.45), (492.5, 3.9), (495, 4.35), (498, 4.6), (501, 4.8), (504, 5.3), (507, 5.85), (510, 5.5),
    (513, 5.25), (516, 5.5), (518.7, 5.65), (521.5, 5.4), (524.5, 5.55), (527.5, 5.7), (530.4, 5.95), (533, 5.6),
    (536, 5.25), (539, 4.9), (542, 4.45), (545, 4.9), (548, 5.4), (551, 5.5), (554, 5.65), (557, 5.7),
    (561.5, 5.85), (564, 5.6), (567, 5.4), (569, 5.1), (571.5, 4.9), (574, 5.1), (577, 5.25), (580, 5.1),
    (583, 4.8), (586, 4.8), (589, 5.1), (591, 5.85), (593, 5.95), (595, 6.0), (599, 6.1), (601, 6.05),
    (603.8, 6.1), (605.5, 5.8), (606.7, 5.4), (609.5, 5.6), (612.6, 5.5), (614.5, 5.3), (616.7, 5.1),
    (619.5, 5.3), (622.6, 5.2), (625, 5.0), (627.2, 4.8), (630, 4.6), (632, 4.5), (634, 4.9), (636, 5.25),
    (639, 5.45), (642, 5.65), (644, 5.4), (646, 5.25), (648.5, 5.3), (650.7, 5.4), (653.5, 5.25), (656.6, 5.1),
    (659.5, 4.9), (662.5, 4.75), (665.5, 4.3), (668.3, 3.85), (670.5, 4.3), (673, 4.6), (676, 4.8), (679, 4.95),
    (682, 5.05), (684.8, 5.1), (688, 5.4), (690.6, 5.7), (692.5, 5.5), (694.7, 5.25), (697.5, 5.4),
    (700.6, 5.5), (703.5, 5.2), (706.5, 4.9), (709.5, 5.0), (712.3, 5.05), (715, 4.95), (718.2, 5.1), (721, 5.0),
    (724, 4.8), (727, 4.95), (730, 5.1), (733, 5.4), (735.8, 5.7), (738, 5.5), (740, 5.25), (743, 5.1),
    (745.8, 4.95), (748.5, 4.85), (751.7, 4.8), (754.5, 4.7), (757.5, 4.65), (760.5, 4.55), (763.4, 4.6),
    (765.5, 4.85), (768, 5.1), (771, 5.2), (774, 5.25), (777, 5.1), (779.8, 5.2), (782.5, 5.3), (785.7, 5.35),
    (788.5, 5.25), (791.6, 5.5), (794.5, 5.35), (797.4, 5.25), (800.5, 5.15), (803.3, 5.1), (806, 5.3),
    (809.2, 5.35), (812, 5.2), (815, 5.05), (818, 5.3), (821, 5.5), (824, 5.4), (826.8, 5.35), (829, 5.5),
    (831.5, 5.55), (834, 5.6), (836.2, 5.7), (839, 5.55), (841.4, 5.4), (844.5, 5.3), (847.3, 5.25),
    (849.5, 5.5), (851.4, 5.7), (854, 5.6), (856.1, 5.5), (859, 5.4), (862, 5.25), (865, 5.3), (867.9, 5.4),
    (871, 5.3), (873.7, 5.1), (876.5, 5.0), (879.6, 4.8), (882, 4.6), (884.3, 4.4), (886.5, 4.7), (888.4, 5.05),
    (891, 5.2), (894.3, 5.25), (897, 5.15), (900.1, 5.1), (902, 5.4), (904.2, 5.65), (906.5, 5.5), (909, 5.4),
    (911.5, 5.3), (913.6, 5.2), (915.5, 5.15), (917.7, 5.1), (920.5, 5.3), (923.6, 5.5), (925.5, 5.45),
    (927.7, 5.35), (930, 5.1), (932.4, 4.9), (935, 5.0), (937.1, 5.1), (939, 4.95), (941.2, 4.8), (943.5, 4.7),
    (945.3, 4.6), (948, 4.5), (950, 4.45), (952.5, 4.4), (954.7, 4.35), (956.5, 4.6), (958.8, 4.8), (961, 5.0),
    (963, 5.1), (965, 4.9), (967.6, 4.75), (970, 4.6), (972.3, 4.45), (974.5, 4.55), (976.4, 4.5),
    (978.5, 4.4), (980.5, 4.35), (983, 4.6), (985.2, 4.9), (987.5, 5.0), (989.9, 5.1), (992, 5.05), (994, 5.05),
    (996, 4.95), (998.1, 4.9), (1000.5, 4.85), (1002.8, 4.8), (1005, 4.9), (1007.5, 4.8), (1009.5, 4.95),
    (1011.6, 5.05), (1013.5, 5.3), (1015.7, 5.5), (1017.5, 5.65), (1019.3, 5.7), (1021.5, 5.5), (1023.4, 5.25),
    (1025.5, 5.15), (1027.5, 5.05), (1030, 4.9), (1032.2, 4.8), (1034.5, 4.65), (1036.9, 4.5), (1039, 4.4),
    (1041, 4.35), (1043, 4.4), (1045.1, 4.45), (1047.5, 4.3), (1049.8, 4.2), (1052, 4.1), (1054.5, 4.0),
    (1056.5, 3.95), (1058.6, 3.85), (1060, 3.7), (1061.5, 3.6), (1063.9, 3.55), (1065, 3.9), (1066.2, 4.5),
    (1067.5, 4.9), (1068.6, 5.1), (1071, 5.0), (1073.3, 5.1), (1076, 5.0), (1079.1, 4.95), (1082, 5.2),
    (1085, 5.35), (1087.5, 5.2), (1089.7, 5.1), (1091.5, 5.0), (1093.8, 4.9), (1096, 4.85), (1097.9, 4.8),
    (1100, 4.95), (1102.6, 5.05), (1105, 4.95), (1107.3, 4.9), (1109.5, 5.05), (1111.4, 5.2), (1113.5, 5.1),
    (1115.5, 5.05), (1118, 5.15), (1120.2, 5.1), (1122.5, 5.3), (1124.9, 5.55), (1127, 5.5), (1129, 5.4),
    (1131, 5.5), (1133.1, 5.55), (1135.5, 5.5), (1137.8, 5.4), (1140, 5.6), (1142.5, 5.95), (1144.5, 5.8),
    (1146.6, 5.7), (1148.5, 5.5), (1150.7, 5.35), (1153, 5.45), (1155.4, 5.55), (1157.5, 5.5), (1160.1, 5.4),
    (1162, 5.3), (1164.2, 5.25), (1166, 5.15), (1168.3, 5.05), (1170.5, 5.1), (1173, 5.2), (1175.5, 5.15),
    (1177.7, 5.1), (1179, 5.2), (1181.8, 4.95), (1183.6, 4.9), (1185.9, 4.8), (1187.7, 4.8), (1189.5, 4.9),
    (1191.8, 5.05), (1193.6, 4.5), (1195.3, 4.6), (1196.5, 4.2), (1198.3, 4.3), (1200, 4.9), (1201, 5.4),
    (1203, 5.3), (1205.3, 5.35), (1207.5, 5.3), (1209.4, 5.4), (1211, 5.3), (1213, 5.25), (1215, 5.15),
    (1217, 5.1), (1219, 5.15), (1221.2, 5.2), (1223.5, 5.05), (1225.8, 4.9), (1228, 4.7), (1230.5, 4.5),
    (1232.5, 4.8), (1234.7, 5.1), (1237.6, 5.35), (1240, 5.25), (1242.3, 5.1), (1244.5, 4.8), (1246.4, 4.5),
    (1249.3, 4.05), (1252.3, 3.4), (1254, 2.9), (1255.2, 2.65), (1256.5, 2.8), (1258.1, 3.0), (1259.5, 3.3),
    (1261.1, 3.6), (1264, 3.9), (1267, 4.65), (1270, 5.4), (1272.8, 5.5), (1275, 5.35), (1277.5, 5.25),
    (1279.5, 5.3), (1281.6, 5.35), (1283.5, 5.3), (1285.7, 5.2), (1288, 5.1), (1290.4, 4.95), (1292.5, 4.85),
    (1295.1, 4.8), (1297, 4.85), (1299.2, 4.9), (1301, 4.8), (1303.3, 4.75), (1305.5, 4.7), (1308, 4.6),
    (1310.5, 4.7), (1312.7, 4.8), (1314.5, 4.95), (1316.8, 5.05), (1318.5, 5.2), (1321, 5.35), (1323.5, 5.3),
    (1325.6, 5.2), (1328, 5.3), (1330.3, 5.4), (1332.5, 5.5), (1334.4, 5.55), (1336.5, 5.45), (1338.5, 5.35),
    (1341, 5.2), (1343.2, 5.1), (1345.5, 5.2), (1347.9, 5.25), (1350, 5.3), (1352, 5.4), (1354, 5.5),
    (1356.1, 5.65), (1358, 5.6), (1359.6, 5.65), (1361.5, 5.5), (1363.8, 5.4), (1366, 5.3), (1367.9, 5.25),
    (1370, 5.2), (1372.6, 5.2), (1375, 5.15), (1377.3, 5.1), (1379.5, 5.1), (1381.4, 5.05), (1383.5, 5.15),
    (1385.5, 5.2), (1388, 5.05), (1390.2, 4.9), (1392.5, 4.7), (1394.9, 4.45), (1397, 4.2), (1399, 4.0),
    (1400.5, 4.3), (1402, 4.5), (1404.5, 4.65), (1406.6, 4.8), (1408.5, 4.9), (1410.7, 4.95), (1412.5, 5.0),
    (1414.8, 5.05), (1417, 5.2), (1419.5, 5.4), (1421.5, 5.35), (1424.2, 5.4), (1426.5, 5.3), (1428.3, 5.25),
    (1430.5, 5.2), (1432.4, 5.1), (1434.5, 5.3), (1436, 5.4), (1438, 5.2), (1440, 4.95), (1442, 4.8),
    (1444.2, 4.6), (1446, 4.7), (1447.7, 4.8), (1450, 5.0), (1451.8, 5.25), (1454, 5.4), (1456, 5.55),
    (1458.5, 5.5), (1460.6, 5.5), (1463, 5.45), (1465.3, 5.4), (1467.5, 5.3), (1469.4, 5.25), (1471.5, 5.3),
    (1473.5, 5.35), (1476, 5.4), (1478.2, 5.45), (1480.5, 5.3), (1482.9, 5.25), (1485, 5.0), (1487, 4.85),
    (1489, 5.0), (1491.1, 5.1), (1493.5, 5.05), (1495.8, 5.05), (1498, 4.9), (1500.5, 4.8), (1502.5, 4.7),
    (1504.6, 4.6), (1506.5, 4.75), (1508.7, 4.9), (1511, 5.05), (1513.4, 5.2), (1515.5, 5.3), (1518.1, 5.4),
    (1520.5, 5.5), (1522, 5.3), (1524, 5.05), (1526, 5.2), (1528, 5.4), (1530, 5.2), (1532.2, 5.05),
    (1534.5, 4.9), (1536.9, 4.8), (1539, 4.7), (1541.6, 4.65), (1543.5, 4.9), (1545.7, 5.1), (1547.5, 5.2),
    (1549.8, 5.25), (1552, 5.3), (1554.5, 5.4), (1557, 5.35), (1559.2, 5.4), (1561, 5.5), (1563.3, 5.55),
    (1565, 5.8), (1567, 5.5), (1569.2, 5.2), (1571, 5.15), (1573.3, 5.1), (1575.5, 5.0), (1578, 4.95),
    (1580.5, 5.0), (1582.7, 5.05), (1584.5, 5.2), (1586.8, 5.4), (1588.5, 5.5), (1590.9, 5.55), (1592.5, 5.0),
    (1594.4, 4.35), (1596.5, 4.5), (1598.5, 4.65), (1600.5, 4.9), (1602.6, 5.2), (1605, 5.25), (1607.3, 5.25),
    (1609.5, 5.1), (1612, 4.95), (1614, 4.95), (1616.1, 4.9), (1618, 4.85), (1620.2, 4.75), (1622.5, 4.6),
    (1624.9, 4.5), (1627, 4.55), (1629.6, 4.5), (1631.5, 4.8), (1633.7, 5.2), (1635.5, 5.0), (1637.8, 4.8),
    (1639.5, 4.6), (1641.3, 4.35), (1643.7, 4.05), (1646, 3.25), (1648.4, 2.65), (1650.7, 2.25), (1653.1, 2.8),
    (1655.4, 3.4), (1657.8, 3.75), (1660.1, 3.6), (1663, 4.15), (1664.5, 3.6), (1666, 3.0), (1668.9, 3.9),
    (1671.9, 5.1), (1674.8, 4.8), (1677.7, 4.9), (1680, 4.85), (1682.4, 4.75), (1684.5, 4.85), (1686.5, 4.95),
    (1688.5, 4.9), (1690.6, 4.8), (1693, 4.7), (1695.3, 4.65), (1697.5, 4.9), (1700, 5.1), (1702, 4.95),
    (1704.1, 4.8), (1706, 4.9), (1708.2, 5.05), (1710.5, 4.6), (1712.9, 4.15), (1715, 4.4), (1717.6, 4.65),
    (1719.5, 4.8), (1721.7, 4.9), (1723.5, 4.75), (1725.9, 4.6), (1728, 4.8), (1730.6, 5.05), (1733, 4.8),
    (1735.2, 4.6), (1737.5, 4.45), (1739.4, 4.35), (1741.5, 4.4), (1743.5, 4.45), (1745.5, 4.2), (1747, 3.9),
    (1749, 3.7), (1751.1, 3.45), (1752.5, 3.1), (1754.1, 2.7), (1755.5, 3.2), (1757, 3.75), (1759.9, 4.05),
    (1762.9, 3.9), (1764.5, 3.6), (1765.8, 3.3), (1767.3, 3.7), (1768.7, 4.15), (1771.6, 4.05), (1774.6, 4.45),
    (1777.5, 4.5), (1780.5, 4.65), (1783.4, 5.05), (1786.3, 4.95), (1789.2, 4.8), (1792.2, 4.6), (1795.1, 4.9),
    (1798, 4.5), (1800, 4.7),
]

labels = ['Hög vind', 'Medelhög vind', 'Låg vind']
colors = ['#0000ff', '#edb120', '#808080']
x_ticks = list(range(0, 1801, 200))
y_ticks = list(range(0, 13, 2))

plt.rcParams['font.family'] = ['Liberation Sans', 'DejaVu Sans']

fig = plt.figure(figsize=(11.35, 6.52), dpi=100)
ax = fig.add_axes([0.0708, 0.1192, 0.9008, 0.8190])

for series, label, color in zip([hog_vind, medelhog_vind, lag_vind], labels, colors):
    t, v = np.array(series).T
    ax.plot(t, v, color=color, lw=1.0, label=label)

ax.set_xlim(0, 1800)
ax.set_ylim(0, 12)
ax.set_xticks(x_ticks)
ax.set_yticks(y_ticks)

ax.grid(True, color='#e3e3e3', lw=0.8)
ax.set_axisbelow(True)
for side in ax.spines.values():
    side.set_color('#333333')
    side.set_linewidth(0.8)
ax.tick_params(axis='both', which='major', direction='out', length=7, width=0.8,
               color='#555555', labelcolor='#262626', labelsize=15,
               top=True, right=True, pad=5)
ax.tick_params(axis='x', pad=10)

ax.set_xlabel('Time (seconds)', fontsize=17.5, color='#262626', labelpad=6)
ax.set_ylabel('Vindhastighet (m/s)', fontsize=18, color='#262626', labelpad=2)
ax.set_title('Uppskattad vindhastighet', fontsize=16.5, fontweight='bold', pad=7.5)

leg = ax.legend(loc='lower right', fontsize=14, handlelength=1.45, handletextpad=0.15,
                labelspacing=0.38, borderpad=0.3, borderaxespad=0.4,
                fancybox=False, framealpha=1, edgecolor='#262626')
leg.get_frame().set_linewidth(0.8)

fig.savefig('out.png', dpi=100)
